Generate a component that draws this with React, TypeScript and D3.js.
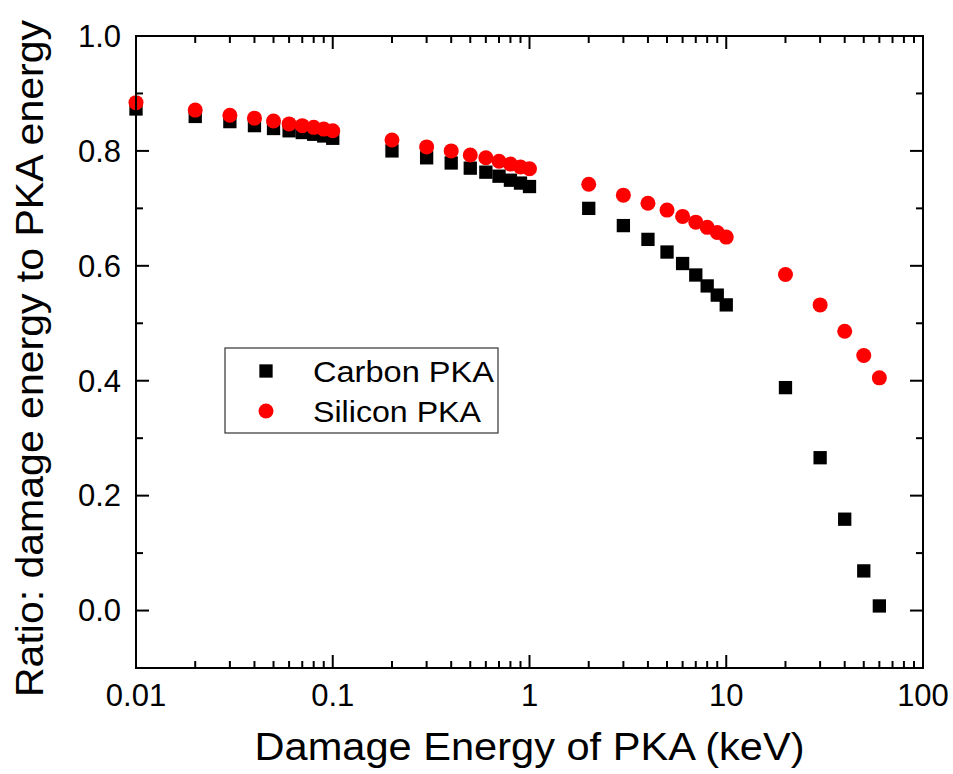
import React from "react";
import * as d3 from "d3";

// Damage energy of the primary knock-on atom (keV)
const energies: number[] = [
  0.01, 0.02, 0.03, 0.04, 0.05, 0.06, 0.07, 0.08, 0.09, 0.1,
  0.2, 0.3, 0.4, 0.5, 0.6, 0.7, 0.8, 0.9, 1,
  2, 3, 4, 5, 6, 7, 8, 9, 10,
  20, 30, 40, 50, 60,
];

// Ratio of damage energy to PKA energy
const carbonRatio: number[] = [
  0.873, 0.860, 0.851, 0.844, 0.839, 0.835, 0.832, 0.829, 0.826, 0.822,
  0.800, 0.788, 0.779, 0.770, 0.763, 0.756, 0.749, 0.744, 0.738,
  0.700, 0.670, 0.646, 0.624, 0.604, 0.584, 0.565, 0.549, 0.532,
  0.388, 0.266, 0.159, 0.069, 0.008,
];

const siliconRatio: number[] = [
  0.884, 0.871, 0.862, 0.857, 0.852, 0.847, 0.844, 0.841, 0.838, 0.835,
  0.819, 0.807, 0.800, 0.793, 0.788, 0.782, 0.777, 0.772, 0.769,
  0.742, 0.723, 0.709, 0.697, 0.686, 0.676, 0.667, 0.658, 0.650,
  0.585, 0.532, 0.486, 0.444, 0.405,
];

const xTickLabels: string[] = ["0.01", "0.1", "1", "10", "100"];
const yTickValues: number[] = [0, 0.2, 0.4, 0.6, 0.8, 1.0];
const seriesNames: string[] = ["Carbon PKA", "Silicon PKA"];

const W = 953;
const H = 774;
const left = 136;
const right = 923;
const top = 36;
const bottom = 668;
const FONT = "Arial, 'Liberation Sans', Helvetica, sans-serif";

export default function App() {
  const x = d3.scaleLog().domain([0.01, 100]).range([left, right]);
  const y = d3.scaleLinear().domain([-0.1, 1.0]).range([bottom, top]);

  // minor log ticks 2..9 in each decade
  const xMinor: number[] = [];
  for (let dec = -2; dec < 2; dec++) {
    for (let m = 2; m <= 9; m++) xMinor.push(m * Math.pow(10, dec));
  }
  const xMajor = xTickLabels.map((s) => +s);
  const yMinor = d3
    .range(-0.1, 1.0001, 0.1)
    .map((v) => +v.toFixed(2))
    .filter((v) => !yTickValues.some((t) => Math.abs(t - v) < 1e-6));

  const major = 13;
  const minor = 7;
  const sq = 13.3;
  const r = 7.5;

  return (
    <svg width={W} height={H} style={{ position: "absolute", left: 0, top: 0, background: "#fff" }}>
      <rect x={0} y={0} width={W} height={H} fill="#fff" />
      {/* markers: carbon squares under silicon circles */}
      <g>
        {energies.map((e, i) => (
          <rect key={"c" + i} x={x(e) - sq / 2} y={y(carbonRatio[i]) - sq / 2} width={sq} height={sq} fill="#000" />
        ))}
        {energies.map((e, i) => (
          <circle key={"s" + i} cx={x(e)} cy={y(siliconRatio[i])} r={r} fill="#ff0000" />
        ))}
      </g>
      {/* frame */}
      <rect x={left} y={top} width={right - left} height={bottom - top} fill="none" stroke="#000" strokeWidth={2} />
      {/* inward ticks on all four sides */}
      <g stroke="#000" strokeWidth={2}>
        {xMajor.map((v) => (
          <g key={"xm" + v}>
            <line x1={x(v)} x2={x(v)} y1={bottom} y2={bottom - major} />
            <line x1={x(v)} x2={x(v)} y1={top} y2={top + major} />
          </g>
        ))}
        {xMinor.map((v) => (
          <g key={"xn" + v}>
            <line x1={x(v)} x2={x(v)} y1={bottom} y2={bottom - minor} />
            <line x1={x(v)} x2={x(v)} y1={top} y2={top + minor} />
          </g>
        ))}
        {yTickValues.map((v) => (
          <g key={"ym" + v}>
            <line x1={left} x2={left + major} y1={y(v)} y2={y(v)} />
            <line x1={right} x2={right - major} y1={y(v)} y2={y(v)} />
          </g>
        ))}
        {yMinor.map((v) => (
          <g key={"yn" + v}>
            <line x1={left} x2={left + minor} y1={y(v)} y2={y(v)} />
            <line x1={right} x2={right - minor} y1={y(v)} y2={y(v)} />
          </g>
        ))}
      </g>
      {/* tick labels */}
      <g fontFamily={FONT} fontSize={31} fill="#000">
        {xTickLabels.map((s) => (
          <text key={"xl" + s} x={x(+s)} y={706} textAnchor="middle">{s}</text>
        ))}
        {yTickValues.map((v) => (
          <text key={"yl" + v} x={121} y={y(v)} dy="0.35em" textAnchor="end">{v.toFixed(1)}</text>
        ))}
      </g>
      {/* axis titles */}
      <text x={(left + right) / 2} y={760} textAnchor="middle" fontFamily={FONT} fontSize={38} textLength={550} lengthAdjust="spacingAndGlyphs">
        Damage Energy of PKA (keV)
      </text>
      <text transform={`translate(43, ${(20 + 697) / 2}) rotate(-90)`} textAnchor="middle" fontFamily={FONT} fontSize={38} textLength={677} lengthAdjust="spacingAndGlyphs">
        Ratio: damage energy to PKA energy
      </text>
      {/* legend */}
      <g>
        <rect x={225} y={348} width={273} height={85} fill="#fff" stroke="#333" strokeWidth={1.2} />
        <rect x={266 - sq / 2} y={371 - sq / 2} width={sq} height={sq} fill="#000" />
        <circle cx={266} cy={411} r={r} fill="#ff0000" />
        <text x={313} y={382} fontFamily={FONT} fontSize={30} textLength={181} lengthAdjust="spacingAndGlyphs">{seriesNames[0]}</text>
        <text x={313} y={422} fontFamily={FONT} fontSize={30} textLength={168} lengthAdjust="spacingAndGlyphs">{seriesNames[1]}</text>
      </g>
    </svg>
  );
}
